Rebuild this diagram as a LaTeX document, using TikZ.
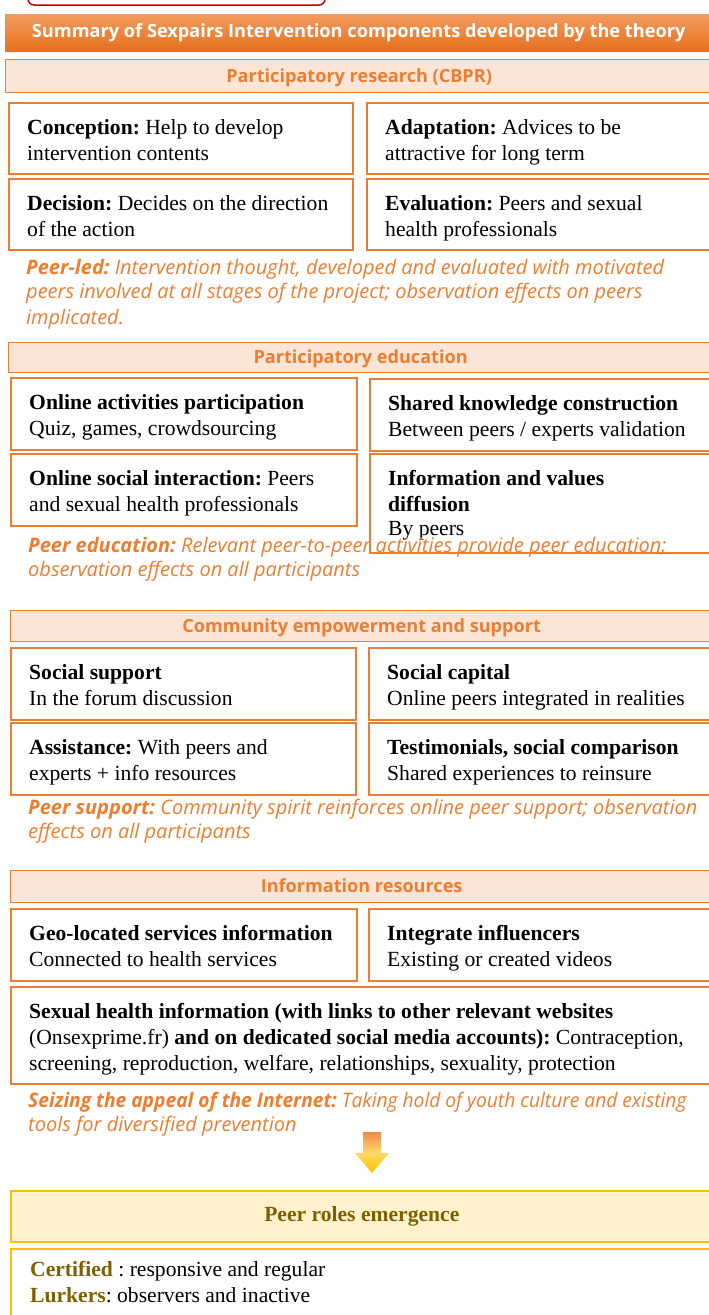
\documentclass[tikz,border=0pt]{standalone}
\usepackage{fontspec}
\usepackage{graphicx}
\setmainfont{Liberation Serif}
\newfontfamily\osans{Open Sans}
\frenchspacing
\definecolor{org}{HTML}{ED7D31}
\definecolor{peach}{HTML}{FBE5D6}
\definecolor{hdtop}{HTML}{F29B5F}
\definecolor{hdbot}{HTML}{E6701C}
\definecolor{gold}{HTML}{FFC000}
\definecolor{lyel}{HTML}{FFF2CC}
\definecolor{olive}{HTML}{7F6000}
\definecolor{dred}{HTML}{C00000}
\definecolor{arrtop}{HTML}{EE8A4C}
\definecolor{arrmid}{HTML}{FFD966}
\tikzset{
 cb/.style={draw=org, line width=1.6pt, fill=white, inner sep=0pt, anchor=north west},
 ct/.style={inner sep=0pt, align=left, anchor=north west, font=\fontsize{21.6}{26}\selectfont},
 bar/.style={draw=org, line width=1.3pt, fill=peach, inner sep=0pt, anchor=north west,
   text=org, text height=14pt, text depth=2pt, font=\osans\bfseries\fontsize{18.1}{21}\selectfont},
 note/.style={text=org, font=\osans\itshape\fontsize{20}{24}\selectfont, align=left,
   inner sep=0pt, anchor=north west},
}
\newcommand\cbox[6]{%
 \node[cb, minimum width=#4pt, minimum height=#5pt] (#1) at (#2,#3) {};
 \node[ct] (#1t) at ([xshift=19pt,yshift=-13.9pt]#1.north west) {\strut #6};}
\begin{document}
\begin{tikzpicture}[x=1pt,y=-1pt]
\useasboundingbox (0,0) rectangle (709,1315);
% top red frame
\draw[dred, line width=1.5pt, fill=white, rounded corners=6pt] (28,-12) rectangle (325,5);
% header
\node[anchor=north west, minimum width=707pt, minimum height=37pt, inner sep=0pt,
  top color=hdtop, bottom color=hdbot, text=white,
  font=\osans\bfseries\fontsize{18.2}{21}\selectfont] (hdr) at (5,14)
  {Summary of Sexpairs Intervention components developed by the theory};
% section 1
\node[bar, minimum width=707pt, minimum height=33pt] (s1) at (5,59) {Participatory research (CBPR)};
\cbox{a1}{8}{102}{344}{71}{\textbf{Conception:} Help to develop\\intervention contents}
\cbox{a2}{366}{102}{346}{71}{\textbf{Adaptation:} Advices to be\\attractive for long term}
\cbox{a3}{8}{178}{344}{71}{\textbf{Decision:} Decides on the direction\\of the action}
\cbox{a4}{366}{178}{346}{71}{\textbf{Evaluation:} Peers and sexual\\health professionals}
\node[note] (n1) at (26,257) {\strut\textbf{Peer-led:} Intervention thought, developed and evaluated with motivated\\
peers involved at all stages of the project; observation effects on peers\\[2pt]
implicated.};
% section 2
\node[bar, minimum width=704pt, minimum height=30pt] (s2) at (8,342) {Participatory education};
\cbox{b1}{10}{377}{346}{72}{\textbf{Online activities participation}\\Quiz, games, crowdsourcing}
\cbox{b2}{369}{378}{343}{72}{\textbf{Shared knowledge construction}\\Between peers / experts validation}
\cbox{b3}{10}{453}{346}{72}{\textbf{Online social interaction:} Peers\\and sexual health professionals}
\cbox{b4}{369}{453}{343}{99}{\textbf{Information and values}\\\textbf{diffusion}\\[-2pt]By peers}
\node[note] (n2) at (28,535) {\strut\textbf{Peer education:} Relevant peer-to-peer activities provide peer education;\\
observation effects on all participants};
% section 3
\node[bar, minimum width=702pt, minimum height=31pt] (s3) at (10,610) {Community empowerment and support};
\cbox{c1}{10}{647}{345}{72}{\textbf{Social support}\\In the forum discussion}
\cbox{c2}{368}{647}{344}{72}{\textbf{Social capital}\\Online peers integrated in realities}
\cbox{c3}{10}{722}{345}{72}{\textbf{Assistance:} With peers and\\experts + info resources}
\cbox{c4}{368}{722}{344}{72}{\textbf{Testimonials, social comparison}\\Shared experiences to reinsure}
\node[note] (n3) at (28,797) {\strut\textbf{Peer support:} Community spirit reinforces online peer support; observation\\
effects on all participants};
% section 4
\node[bar, minimum width=702pt, minimum height=32pt] (s4) at (10,870) {Information resources};
\cbox{d1}{10}{908}{346}{72}{\textbf{Geo-located services information}\\Connected to health services}
\cbox{d2}{368}{908}{344}{72}{\textbf{Integrate influencers}\\Existing or created videos}
\cbox{d3}{10}{986}{702}{97}{\textbf{Sexual health information (with links to other relevant websites}\\
(Onsexprime.fr) \textbf{and on dedicated social media accounts):} Contraception,\\
screening, reproduction, welfare, relationships, sexuality, protection}
\node[note] (n4) at (28,1090) {\strut\scalebox{0.96}[1]{\textbf{Seizing the appeal of the Internet:} Taking hold of youth culture and existing}\\
tools for diversified prevention};
% arrow
\shade[top color=arrtop, bottom color=gold, middle color=arrmid]
  (363,1132) -- (381,1132) -- (381,1153) -- (389,1153) -- (372,1173) -- (355,1153) -- (363,1153) -- cycle;
% peer roles
\node[draw=gold, line width=1.6pt, fill=lyel, anchor=north west, inner sep=0pt,
  minimum width=702pt, minimum height=51pt, text=olive,
  font=\bfseries\fontsize{21.6}{26}\selectfont] (pr) at (10,1190) {Peer roles emergence};
\node[draw=gold, line width=1.6pt, fill=white, anchor=north west, inner sep=0pt,
  minimum width=702pt, minimum height=90pt] (pb) at (10,1248) {};
\node[ct] (pbt) at ([xshift=20pt,yshift=-10pt]pb.north west) {\strut\textcolor{olive}{\textbf{Certified}} : responsive and regular\\
\textcolor{olive}{\textbf{Lurkers}}: observers and inactive};
\end{tikzpicture}
\end{document}
